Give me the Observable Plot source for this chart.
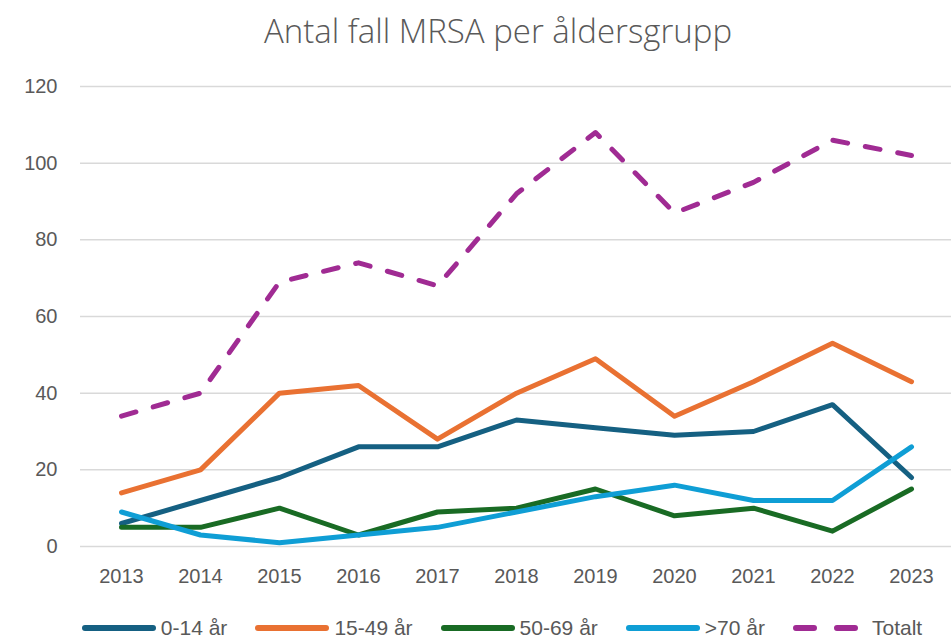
<!DOCTYPE html>
<html><head><meta charset="utf-8">
<script src="https://cdn.jsdelivr.net/npm/d3@7"></script>
<script src="https://cdn.jsdelivr.net/npm/@observablehq/plot@0.6"></script>
<style>
body{margin:0;background:#fff;font-family:"Liberation Sans",Arial,sans-serif;overflow:hidden;}
#title{height:60px;line-height:62px;text-align:center;font-family:"Open Sans",sans-serif;font-size:33px;color:#595959;font-weight:300;padding-left:45px;white-space:nowrap;}
#legend{height:40px;display:flex;justify-content:center;align-items:center;padding-top:16px;box-sizing:border-box;padding-left:53px;font-family:"Liberation Sans",Arial,sans-serif;font-size:21px;color:#595959;line-height:24px;}
.item{display:flex;align-items:center;margin-right:28px;}
.item:last-child{margin-right:0;}
.item svg{margin-right:5px;}
</style></head><body>
<div id="title">Antal fall MRSA per åldersgrupp</div>
<div id="chart"></div>
<div id="legend"></div>
<script>
const years = ["2013","2014","2015","2016","2017","2018","2019","2020","2021","2022","2023"];
const seriesNames = ["0-14 år","15-49 år","50-69 år",">70 år","Totalt"];
const age0_14  = [6,12,18,26,26,33,31,29,30,37,18];
const age15_49 = [14,20,40,42,28,40,49,34,43,53,43];
const age50_69 = [5,5,10,3,9,10,15,8,10,4,15];
const age70    = [9,3,1,3,5,9,13,16,12,12,26];
const totalt   = [34,40,69,74,68,92,108,87,95,106,102];
const yTicks = [0,20,40,60,80,100,120];

const colors = ["#156082","#E97132","#196B24","#0F9ED5","#A02B93"];
const valuesBySeries = [age0_14, age15_49, age50_69, age70, totalt];

const rows = [];
valuesBySeries.forEach((vals, si) => vals.forEach((v, i) => rows.push({series: seriesNames[si], year: years[i], value: v})));

const marks = [
  Plot.gridY(yTicks, {stroke:"#d9d9d9", strokeOpacity:1, strokeWidth:1.5}),
  Plot.axisY(yTicks, {tickSize:0, tickPadding:23, fontSize:20, fill:"#595959"}),
  Plot.axisX({tickSize:0, tickPadding:22, fontSize:20, fill:"#595959"})
];
seriesNames.forEach((name, si) => {
  marks.push(Plot.line(rows.filter(d => d.series === name), {
    x:"year", y:"value", stroke: colors[si], strokeWidth:5,
    strokeLinecap:"round", strokeLinejoin:"round",
    strokeDasharray: name === "Totalt" ? "15,18" : null
  }));
});

const chart = Plot.plot({
  width:951, height:540,
  marginTop:26, marginBottom:54, marginLeft:80, marginRight:0,
  style:{fontFamily:"'Liberation Sans',Arial,sans-serif", background:"#fff"},
  x:{type:"point", domain:years, padding:0.5, label:null},
  y:{domain:[0,120], label:null},
  marks
});
document.getElementById("chart").appendChild(chart);

const legend = document.getElementById("legend");
seriesNames.forEach((name, si) => {
  const it = document.createElement("div");
  it.className = "item";
  const dashed = name === "Totalt";
  it.innerHTML = `<svg width="74" height="10"><line x1="3" y1="5" x2="${dashed ? 68 : 71}" y2="5" stroke="${colors[si]}" stroke-width="6" stroke-linecap="round" ${dashed ? 'stroke-dasharray="18,23"' : ''}/></svg><span>${name}</span>`;
  legend.appendChild(it);
});
</script>
</body></html>
